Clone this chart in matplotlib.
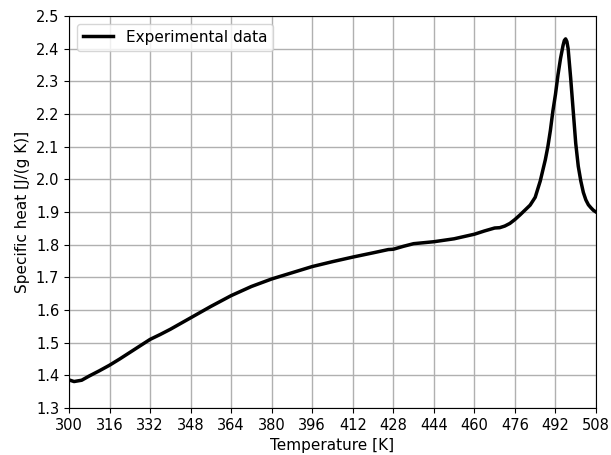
import matplotlib
matplotlib.use("Agg")
import matplotlib.pyplot as plt

temperature = [300, 302, 305, 308, 312, 316, 320, 324, 328, 332, 336, 340, 348, 356,
               364, 372, 380, 388, 396, 404, 412, 420, 426, 428, 432, 436, 440, 444,
               452, 460, 464, 468, 470, 472, 474, 476, 478, 480, 482, 484, 486, 488,
               489, 490, 491, 492, 493, 494, 495, 495.5, 496, 496.5, 497, 498, 499,
               500, 501, 502, 503, 504, 505, 506, 507, 508]
specific_heat = [1.386, 1.381, 1.385, 1.398, 1.414, 1.431, 1.450, 1.470, 1.490, 1.510,
                 1.525, 1.541, 1.576, 1.611, 1.644, 1.672, 1.695, 1.714, 1.733, 1.748,
                 1.762, 1.775, 1.785, 1.786, 1.795, 1.803, 1.806, 1.809, 1.818, 1.832,
                 1.842, 1.851, 1.852, 1.857, 1.865, 1.877, 1.891, 1.906, 1.921, 1.945,
                 1.995, 2.06, 2.10, 2.15, 2.21, 2.26, 2.32, 2.37, 2.41, 2.425, 2.43,
                 2.422, 2.40, 2.31, 2.21, 2.11, 2.04, 1.995, 1.96, 1.937, 1.922, 1.913,
                 1.905, 1.900]
x_ticks = [300, 316, 332, 348, 364, 380, 396, 412, 428, 444, 460, 476, 492, 508]
y_ticks = [1.3, 1.4, 1.5, 1.6, 1.7, 1.8, 1.9, 2.0, 2.1, 2.2, 2.3, 2.4, 2.5]

fig = plt.figure(figsize=(6.11, 4.55), dpi=100)
ax = fig.add_axes([69/611, 1-408/455, (596-69)/611, (408-16)/455])
ax.plot(temperature, specific_heat, color="black", linewidth=2.5, label="Experimental data")
ax.set_xlim(300, 508)
ax.set_ylim(1.3, 2.5)
ax.set_xticks(x_ticks)
ax.set_yticks(y_ticks)
ax.set_yticklabels([f"{v:.1f}" for v in y_ticks])
ax.tick_params(labelsize=10.5)
ax.grid(True, color="#b0b0b0", linewidth=1.0)
ax.set_axisbelow(True)
ax.set_xlabel("Temperature [K]", fontsize=11)
ax.set_ylabel("Specific heat [J/(g K)]", fontsize=11)
ax.legend(loc="upper left", fontsize=11)
fig.savefig("out.png", dpi=100)
